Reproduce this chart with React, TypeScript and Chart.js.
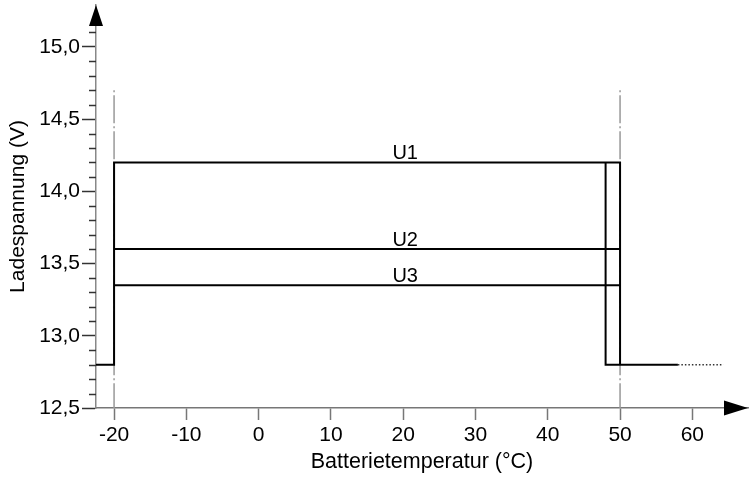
import React, { useEffect, useRef } from "react";
import { Chart, registerables } from "chart.js";

Chart.register(...registerables);

// ---- data ----
const xTicks = [-20, -10, 0, 10, 20, 30, 40, 50, 60];
const yTicks = [12.5, 13.0, 13.5, 14.0, 14.5, 15.0];
const yMinorTicks = [12.6, 12.7, 12.8, 12.9, 13.1, 13.2, 13.3, 13.4, 13.6, 13.7, 13.8, 13.9, 14.1, 14.2, 14.3, 14.4, 14.6, 14.7, 14.8, 14.9, 15.1];
const X_MIN = -22.5;
const X_MAX = 67.7;
const Y_MIN = 12.5;
const Y_MAX = 15.29;

const mainT = [-22.5, -20, -20, 50, 50];
const mainU = [12.8, 12.8, 14.2, 14.2, 12.8];
const u2T = [-20, 50];
const u2U = [13.6, 13.6];
const u3T = [-20, 50];
const u3U = [13.35, 13.35];
const cutT = [48, 48, 58];
const cutU = [14.2, 12.8, 12.8];
const dotT = [58, 64.3];
const dotU = [12.8, 12.8];
const refLeftT = [-20, -20];
const refRightT = [50, 50];
const refU = [14.7, 12.5];

const seriesLabels = ["U1", "U2", "U3"];
const seriesLabelU = [14.2, 13.6, 13.35];
const seriesLabelT = 20;

const FONT = "'Liberation Sans', Arial, sans-serif";

const pts = (xs: number[], ys: number[]) => xs.map((x, i) => ({ x, y: ys[i] }));

export default function App() {
  const ref = useRef<HTMLCanvasElement | null>(null);

  useEffect(() => {
    if (!ref.current) return;

    const decor = {
      id: "decor",
      afterDraw(chart: any) {
        const ctx = chart.ctx;
        const xs = chart.scales.x;
        const ys = chart.scales.y;
        const ca = chart.chartArea;
        ctx.save();
        // minor ticks
        ctx.strokeStyle = "#333";
        ctx.lineWidth = 1.5;
        yMinorTicks.forEach((v) => {
          const py = Math.round(ys.getPixelForValue(v)) + 0.5;
          ctx.beginPath();
          ctx.moveTo(ca.left - 7, py);
          ctx.lineTo(ca.left, py);
          ctx.stroke();
        });
        // arrows
        ctx.fillStyle = "#000";
        ctx.beginPath();
        ctx.moveTo(ca.left, ca.top);
        ctx.lineTo(ca.left - 7, ca.top + 21);
        ctx.lineTo(ca.left + 7, ca.top + 21);
        ctx.closePath();
        ctx.fill();
        const ay = xs.top;
        ctx.beginPath();
        ctx.moveTo(ca.right, ay);
        ctx.lineTo(ca.right - 24, ay - 7.5);
        ctx.lineTo(ca.right - 24, ay + 7.5);
        ctx.closePath();
        ctx.fill();
        // series labels
        ctx.font = `20px ${FONT}`;
        ctx.textAlign = "center";
        ctx.textBaseline = "alphabetic";
        ctx.fillStyle = "#000";
        seriesLabels.forEach((t, i) => {
          const px = xs.getPixelForValue(seriesLabelT);
          const py = ys.getPixelForValue(seriesLabelU[i]);
          ctx.fillText(t, px + 2, py - 3.5);
        });
        ctx.restore();
      },
    };

    const solid = { borderColor: "#000", borderWidth: 2, pointRadius: 0, fill: false, tension: 0 };

    const chart = new Chart(ref.current, {
      type: "line",
      data: {
        datasets: [
          { data: pts(mainT, mainU), ...solid, order: 0 },
          { data: pts(u2T, u2U), ...solid, order: 0 },
          { data: pts(u3T, u3U), ...solid, order: 0 },
          { data: pts(cutT, cutU), ...solid, order: 0 },
          { data: pts(dotT, dotU), borderColor: "#333", borderWidth: 1.5, borderDash: [1.5, 2], pointRadius: 0, order: 0 },
          { data: pts(refLeftT, refU), borderColor: "#999", borderWidth: 1.5, borderDash: [2, 3, 28, 3], pointRadius: 0, order: 2 },
          { data: pts(refRightT, refU), borderColor: "#999", borderWidth: 1.5, borderDash: [2, 3, 28, 3], pointRadius: 0, order: 2 },
        ],
      },
      options: {
        responsive: false,
        animation: false,
        events: [],
        layout: { padding: { top: 5, right: 7, left: 0, bottom: 0 } },
        plugins: { legend: { display: false }, tooltip: { enabled: false } },
        scales: {
          x: {
            type: "linear",
            min: X_MIN,
            max: X_MAX,
            afterBuildTicks: (s: any) => {
              s.ticks = xTicks.map((v) => ({ value: v }));
            },
            afterFit: (s: any) => {
              s.height = 69;
              s.paddingLeft = 0;
              s.paddingRight = 0;
            },
            ticks: {
              autoSkip: false,
              maxRotation: 0,
              padding: 3,
              color: "#000",
              font: { family: FONT, size: 21 },
              callback: (v: any) => String(v),
            },
            grid: { drawOnChartArea: false, drawTicks: true, tickLength: 12, tickColor: "#777", tickWidth: 1.5 },
            border: { display: true, color: "#777", width: 1.5 },
            title: { display: true, text: "Batterietemperatur (°C)", color: "#000", font: { family: FONT, size: 21.5 }, padding: 2 },
          },
          y: {
            type: "linear",
            min: Y_MIN,
            max: Y_MAX,
            afterBuildTicks: (s: any) => {
              s.ticks = yTicks.map((v) => ({ value: v }));
            },
            afterFit: (s: any) => {
              s.width = 96;
              s.paddingTop = 0;
              s.paddingBottom = 0;
            },
            ticks: {
              autoSkip: false,
              padding: 2,
              color: "#000",
              font: { family: FONT, size: 21 },
              callback: (v: any) => Number(v).toFixed(1).replace(".", ","),
            },
            grid: { drawOnChartArea: false, drawTicks: true, tickLength: 14, tickColor: "#333", tickWidth: 1.5 },
            border: { display: true, color: "#888", width: 1.5 },
            title: { display: true, text: "Ladespannung (V)", color: "#000", font: { family: FONT, size: 21 }, padding: 6 },
          },
        },
      },
      plugins: [decor],
    } as any);

    return () => chart.destroy();
  }, []);

  return (
    <div style={{ position: "absolute", left: 0, top: 0, width: 755, height: 477, background: "#fff" }}>
      <canvas ref={ref} width={755} height={477} />
    </div>
  );
}
